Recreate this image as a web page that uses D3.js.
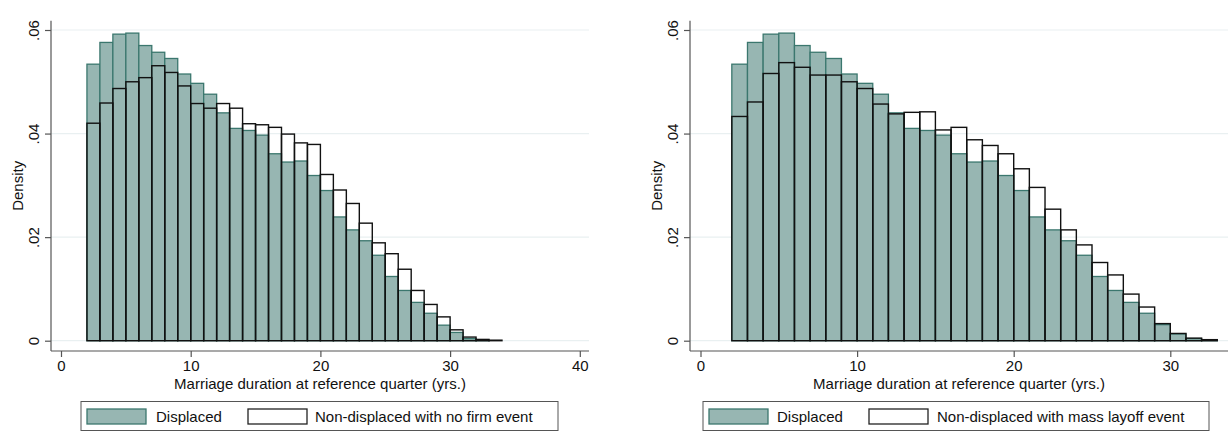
<!DOCTYPE html>
<html>
<head>
<meta charset="utf-8">
<script src="https://cdn.jsdelivr.net/npm/d3@7/dist/d3.min.js"></script>
<style>
  html, body { margin: 0; padding: 0; background: #fff; }
  svg { display: block; font-family: "Liberation Sans", Arial, Helvetica, sans-serif; }
</style>
</head>
<body>
<svg id="chart" width="1232" height="433"></svg>
<script>
// ---- data (bin start in years, bin width = 1 year) ----
const binsLeft  = [2,3,4,5,6,7,8,9,10,11,12,13,14,15,16,17,18,19,20,21,22,23,24,25,26,27,28,29,30,31,32,33];
const displacedLeft = [0.0534,0.0576,0.0592,0.0594,0.0570,0.0557,0.0545,0.0515,0.0497,0.0476,0.0440,0.0410,0.0406,0.0397,0.0361,0.0345,0.0347,0.0319,0.0290,0.0239,0.0214,0.0193,0.0165,0.0124,0.0097,0.0074,0.0053,0.0030,0.0016,0.0004,0.0001,0.0000];
const noFirmEvent   = [0.0420,0.0459,0.0487,0.0500,0.0508,0.0531,0.0518,0.0492,0.0458,0.0449,0.0458,0.0449,0.0419,0.0417,0.0412,0.0399,0.0382,0.0379,0.0321,0.0291,0.0265,0.0227,0.0189,0.0168,0.0138,0.0097,0.0070,0.0046,0.0021,0.0007,0.00025,0.0001];

const binsRight = [2,3,4,5,6,7,8,9,10,11,12,13,14,15,16,17,18,19,20,21,22,23,24,25,26,27,28,29,30,31,32];
const displacedRight = [0.0534,0.0576,0.0592,0.0594,0.0570,0.0557,0.0545,0.0515,0.0497,0.0476,0.0440,0.0410,0.0406,0.0397,0.0361,0.0345,0.0347,0.0319,0.0290,0.0239,0.0214,0.0193,0.0165,0.0124,0.0097,0.0074,0.0053,0.0031,0.0013,0.0004,0.0001];
const massLayoff     = [0.0433,0.0461,0.0516,0.0537,0.0528,0.0513,0.0513,0.0500,0.0487,0.0457,0.0438,0.0441,0.0442,0.0407,0.0412,0.0388,0.0377,0.0361,0.0332,0.0296,0.0254,0.0214,0.0185,0.0151,0.0127,0.0090,0.0065,0.0033,0.0014,0.0005,0.0002];

const xTicksLeft  = [0,10,20,30,40];
const xTicksRight = [0,10,20,30];
const yTicks      = [0,0.02,0.04,0.06];
const yTickLabels = ["0",".02",".04",".06"];
const xTitle = "Marriage duration at reference quarter (yrs.)";
const yTitle = "Density";
const legendLeft  = ["Displaced","Non-displaced with no firm event"];
const legendRight = ["Displaced","Non-displaced with mass layoff event"];

// ---- style ----
const TEAL_FILL = "#97b6b2";
const TEAL_LINE = "#3b776e";
const GRID = "#e9f0f1";
const AXIS = "#555";

const svg = d3.select("#chart");

function panel(opt) {
  const g = svg.append("g");
  const x = d3.scaleLinear().domain(opt.xDomain).range(opt.xRange);
  const y = d3.scaleLinear().domain([0, 0.06]).range([340.7, 30]);
  const left = opt.axisLeft, right = opt.axisRight, top = 20.7, bottom = 351;

  // gridlines
  g.append("g").selectAll("line").data(yTicks).join("line")
    .attr("x1", left).attr("x2", right)
    .attr("y1", d => y(d)).attr("y2", d => y(d))
    .attr("stroke", GRID).attr("stroke-width", 1.2);

  // displaced bars
  g.append("g").selectAll("rect").data(opt.bins.map((b, i) => ({b, v: opt.disp[i]})).filter(d => d.v > 0))
    .join("rect")
    .attr("x", d => x(d.b)).attr("width", d => x(d.b + 1) - x(d.b))
    .attr("y", d => y(d.v)).attr("height", d => y(0) - y(d.v))
    .attr("fill", TEAL_FILL).attr("stroke", TEAL_LINE).attr("stroke-width", 1.3);

  // comparison bars (outline)
  g.append("g").selectAll("rect").data(opt.bins.map((b, i) => ({b, v: opt.comp[i]})))
    .join("rect")
    .attr("x", d => x(d.b)).attr("width", d => x(d.b + 1) - x(d.b))
    .attr("y", d => y(d.v)).attr("height", d => Math.max(0, y(0) - y(d.v)))
    .attr("fill", "none").attr("stroke", "#111").attr("stroke-width", 1.4);

  // x axis
  const xa = g.append("g").attr("transform", `translate(0,${bottom})`)
    .call(d3.axisBottom(x).tickValues(opt.xTicks).tickSize(6).tickPadding(3).tickFormat(d3.format("d")));
  xa.select(".domain").remove();
  xa.append("line").attr("x1", left).attr("x2", right).attr("stroke", AXIS).attr("stroke-width", 1.2);
  xa.selectAll(".tick line").attr("stroke", AXIS).attr("stroke-width", 1.2);
  xa.selectAll(".tick text").attr("fill", "#111").attr("font-size", 15).attr("font-family", "Liberation Sans, Arial, sans-serif");

  // y axis
  const ya = g.append("g").attr("transform", `translate(${left},0)`)
    .call(d3.axisLeft(y).tickValues(yTicks).tickSize(6).tickFormat((d, i) => yTickLabels[i]));
  ya.select(".domain").remove();
  ya.append("line").attr("y1", top).attr("y2", bottom).attr("stroke", AXIS).attr("stroke-width", 1.2);
  ya.selectAll(".tick line").attr("stroke", AXIS).attr("stroke-width", 1.2);
  ya.selectAll(".tick text")
    .attr("x", 0).attr("dy", null).attr("dominant-baseline", "central")
    .attr("text-anchor", "middle")
    .attr("transform", "translate(-18,0) rotate(-90)")
    .attr("fill", "#111").attr("font-size", 15).attr("font-family", "Liberation Sans, Arial, sans-serif");

  // titles
  g.append("text").attr("x", (left + right) / 2).attr("y", 389)
    .attr("text-anchor", "middle").attr("font-size", 15).attr("fill", "#111").text(xTitle);
  g.append("text").attr("transform", `translate(${left - 34},${(top + bottom) / 2}) rotate(-90)`)
    .attr("text-anchor", "middle").attr("dominant-baseline", "central")
    .attr("font-size", 15).attr("fill", "#111").text(yTitle);

  // legend
  const L = opt.legend;
  const lg = g.append("g");
  lg.append("rect").attr("x", L.x0).attr("y", 401.5).attr("width", L.x1 - L.x0).attr("height", 29)
    .attr("fill", "#fff").attr("stroke", "#555").attr("stroke-width", 1);
  lg.append("rect").attr("x", L.sw1).attr("y", 409).attr("width", 59).attr("height", 15)
    .attr("fill", TEAL_FILL).attr("stroke", TEAL_LINE).attr("stroke-width", 1.3);
  lg.append("text").attr("x", L.t1).attr("y", 421.5).attr("font-size", 15).attr("fill", "#111").text(opt.legendText[0]);
  lg.append("rect").attr("x", L.sw2).attr("y", 409).attr("width", 59).attr("height", 15)
    .attr("fill", "#fff").attr("stroke", "#222").attr("stroke-width", 1.3);
  lg.append("text").attr("x", L.t2).attr("y", 421.5).attr("font-size", 15).attr("fill", "#111").text(opt.legendText[1]);
}

panel({
  xDomain: [0, 40], xRange: [61, 579.8], axisLeft: 51, axisRight: 589,
  xTicks: xTicksLeft, bins: binsLeft, disp: displacedLeft, comp: noFirmEvent,
  legendText: legendLeft,
  legend: {x0: 81, x1: 558, sw1: 87, t1: 156, sw2: 248, t2: 315}
});
panel({
  xDomain: [0, 30], xRange: [700.5, 1170.3], axisLeft: 690, axisRight: 1228,
  xTicks: xTicksRight, bins: binsRight, disp: displacedRight, comp: massLayoff,
  legendText: legendRight,
  legend: {x0: 703, x1: 1209, sw1: 709, t1: 777, sw2: 869, t2: 937}
});
</script>
</body>
</html>
